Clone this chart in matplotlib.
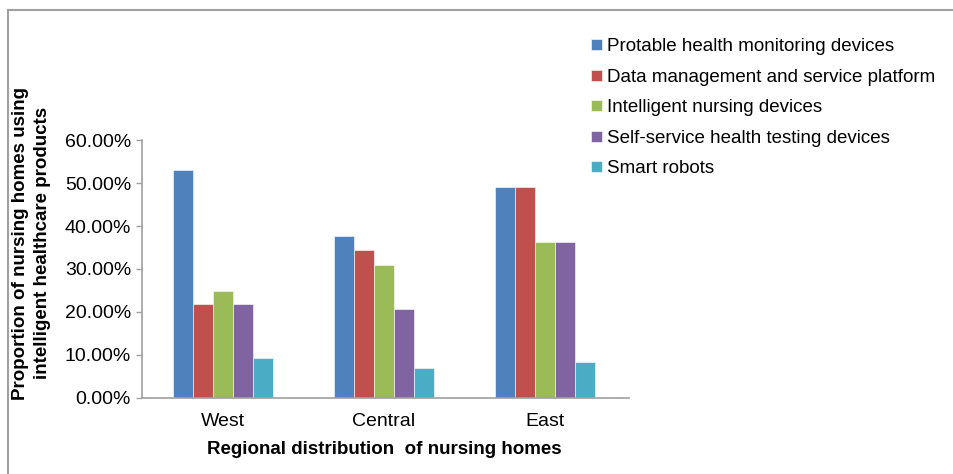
import matplotlib.pyplot as plt
import numpy as np
from matplotlib.ticker import FuncFormatter

plt.rcParams['font.family'] = ['Liberation Sans', 'DejaVu Sans']

# Data
regions = ["West", "Central", "East"]
series = ["Protable health monitoring devices",
          "Data management and service platform",
          "Intelligent nursing devices",
          "Self-service health testing devices",
          "Smart robots"]
portable = [0.531, 0.378, 0.490]
data_platform = [0.219, 0.344, 0.490]
nursing = [0.249, 0.309, 0.364]
self_service = [0.219, 0.207, 0.364]
robots = [0.093, 0.069, 0.083]
colors = ["#4F81BD", "#C0504D", "#9BBB59", "#8064A2", "#4BACC6"]

values = [portable, data_platform, nursing, self_service, robots]

fig = plt.figure(figsize=(9.54, 4.74), dpi=100)
ax = fig.add_axes([0.149, 0.161, 0.507, 0.543])

x = np.arange(len(regions))
w = 0.124
for i, (vals, name, c) in enumerate(zip(values, series, colors)):
    ax.bar(x + (i - 2) * w, vals, w, color=c, label=name,
           edgecolor="white", linewidth=0.4)

ax.set_xlim(-0.5, 2.5)
ax.set_ylim(0, 0.6)
ax.set_yticks(np.arange(0, 0.61, 0.1))
ax.yaxis.set_major_formatter(FuncFormatter(lambda v, p: f"{v*100:.2f}%"))
ax.set_xticks(x)
ax.set_xticklabels(regions)
ax.tick_params(axis="y", labelsize=14, color="#A0A0A0", length=4, width=1, pad=4)
ax.tick_params(axis="x", labelsize=14, length=0, pad=11)
for s in ["top", "right"]:
    ax.spines[s].set_visible(False)
for s in ["left", "bottom"]:
    ax.spines[s].set_color("#A0A0A0")
    ax.spines[s].set_linewidth(1.2)
ax.spines["bottom"].set_bounds(-0.5, 2.52)

ax.set_xlabel("Regional distribution  of nursing homes", fontsize=13.5,
              fontweight="bold", labelpad=8)
fig.text(0.033, 0.487, "Proportion of nursing homes using\nintelligent healthcare products",
         rotation=90, ha="center", va="center", fontsize=13.5, fontweight="bold",
         linespacing=1.4)

ax.legend(loc="upper left", bbox_to_anchor=(0.612, 0.935), bbox_transform=fig.transFigure,
          frameon=False, fontsize=13.5, handlelength=0.55, handleheight=0.55,
          handletextpad=0.3, labelspacing=0.72, borderaxespad=0)

# outer frame of the picture
fig.add_artist(plt.Line2D([0.008, 1.0], [0.978, 0.978], color="#A0A0A0", lw=1.5,
                          transform=fig.transFigure))
fig.add_artist(plt.Line2D([0.008, 0.008], [0.0, 0.978], color="#A0A0A0", lw=1.5,
                          transform=fig.transFigure))

fig.savefig("out.png", dpi=100)
